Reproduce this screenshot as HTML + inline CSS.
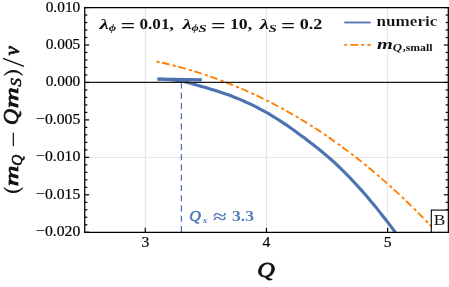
<!DOCTYPE html>
<html><head><meta charset="utf-8"><style>
html,body{margin:0;padding:0;background:#fff;}
svg{display:block;will-change:transform;font-family:"Liberation Serif",serif;}
</style></head><body>
<svg width="449" height="287" viewBox="0 0 449 287">
<rect width="449" height="287" fill="#fff"/>
<g stroke="#d9d9d9" stroke-width="0.7" fill="none">
<line x1="145.30" y1="7.55" x2="145.30" y2="232.25"/>
<line x1="266.45" y1="7.55" x2="266.45" y2="232.25"/>
<line x1="387.60" y1="7.55" x2="387.60" y2="232.25"/>
<line x1="84.7" y1="157.4" x2="448.2" y2="157.4"/>
</g>
<line x1="181.4" y1="82.4" x2="181.4" y2="232" stroke="#4C72B0" stroke-width="1.25" stroke-dasharray="6.0 4.25"/>
<path d="M156.5,61.5 L159.5,62.1 L162.5,62.8 L165.5,63.5 L168.5,64.2 L171.5,65.0 L174.5,65.7 L177.5,66.5 L180.5,67.3 L183.5,68.2 L186.5,69.0 L189.5,69.9 L192.5,70.8 L195.5,71.7 L198.5,72.6 L201.5,73.6 L204.5,74.6 L207.5,75.6 L210.5,76.6 L213.5,77.7 L216.5,78.8 L219.5,79.9 L222.5,81.0 L225.5,82.1 L228.5,83.3 L231.5,84.5 L234.5,85.7 L237.5,87.0 L240.5,88.2 L243.5,89.5 L246.5,90.9 L249.5,92.2 L252.5,93.6 L255.5,95.0 L258.5,96.4 L261.5,97.9 L264.5,99.3 L267.5,100.8 L270.5,102.4 L273.5,103.9 L276.5,105.5 L279.5,107.1 L282.5,108.7 L285.5,110.4 L288.5,112.1 L291.5,113.8 L294.5,115.5 L297.5,117.3 L300.5,119.1 L303.5,120.9 L306.5,122.8 L309.5,124.6 L312.5,126.5 L315.5,128.5 L318.5,130.4 L321.5,132.4 L324.5,134.5 L327.5,136.5 L330.5,138.6 L333.5,140.7 L336.5,142.8 L339.5,145.0 L342.5,147.2 L345.5,149.4 L348.5,151.7 L351.5,154.0 L354.5,156.3 L357.5,158.6 L360.5,161.0 L363.5,163.4 L366.5,165.8 L369.5,168.3 L372.5,170.8 L375.5,173.3 L378.5,175.9 L381.5,178.5 L384.5,181.1 L387.5,183.8 L390.5,186.5 L393.5,189.2 L396.5,191.9 L399.5,194.7 L402.5,197.5 L405.5,200.4 L408.5,203.3 L411.5,206.2 L414.5,209.1 L417.5,212.1 L420.5,215.1 L423.5,218.2 L426.5,221.3 L429.5,224.4 L431.6,226.6" fill="none" stroke="#FF7F00" stroke-width="1.9" stroke-dasharray="3.2 2.5 7.6 3.4" stroke-linecap="butt"/>
<path d="M157.5,79.0 L201.8,79.9" fill="none" stroke="#4C72B0" stroke-width="3.1"/>
<path d="M157.6,79.0 L160.6,79.2 L163.6,79.3 L166.6,79.5 L169.6,79.7 L172.6,79.9 L175.6,80.3 L178.6,80.7 L181.6,81.2 L184.6,81.8 L187.6,82.5 L190.6,83.3 L193.6,84.2 L196.6,85.1 L199.6,85.9 L202.6,86.8 L205.6,87.6 L208.6,88.5 L211.6,89.4 L214.6,90.3 L217.6,91.2 L220.6,92.2 L223.6,93.2 L226.6,94.2 L229.6,95.3 L232.6,96.5 L235.6,97.7 L238.6,98.9 L241.6,100.2 L244.6,101.5 L247.6,102.8 L250.6,104.2 L253.6,105.7 L256.6,107.2 L259.6,108.8 L262.6,110.4 L265.6,112.0 L268.6,113.7 L271.6,115.5 L274.6,117.3 L277.6,119.2 L280.6,121.1 L283.6,123.1 L286.6,125.1 L289.6,127.2 L292.6,129.3 L295.6,131.5 L298.6,133.7 L301.6,135.9 L304.6,138.1 L307.6,140.4 L310.6,142.7 L313.6,145.0 L316.6,147.4 L319.6,149.8 L322.6,152.2 L325.6,154.7 L328.6,157.3 L331.6,160.0 L334.6,162.7 L337.6,165.5 L340.6,168.4 L343.6,171.3 L346.6,174.3 L349.6,177.4 L352.6,180.6 L355.6,183.8 L358.6,187.1 L361.6,190.4 L364.6,193.8 L367.6,197.3 L370.6,200.9 L373.6,204.5 L376.6,208.1 L379.6,211.9 L382.6,215.7 L385.6,219.5 L388.6,223.4 L391.6,227.4 L394.6,231.4 L395.4,232.6" fill="none" stroke="#4C72B0" stroke-width="3.1" stroke-linejoin="round"/>
<line x1="84.7" y1="82.35" x2="448.2" y2="82.35" stroke="#1a1a1a" stroke-width="1.1"/>
<g stroke="#000" stroke-width="1.25" stroke-linecap="square">
<line x1="84.75" y1="7.55" x2="448.3" y2="7.55"/><line x1="84.75" y1="232.25" x2="448.3" y2="232.25"/>
<line x1="84.75" y1="7.55" x2="84.75" y2="232.25"/><line x1="448.3" y1="7.55" x2="448.3" y2="232.25"/></g>
<g stroke="#000" stroke-width="1.2"><line x1="84.75" y1="7.55" x2="89.15" y2="7.55"/><line x1="448.3" y1="7.55" x2="443.90000000000003" y2="7.55"/><line x1="84.75" y1="15.04" x2="87.35" y2="15.04"/><line x1="448.3" y1="15.04" x2="445.7" y2="15.04"/><line x1="84.75" y1="22.53" x2="87.35" y2="22.53"/><line x1="448.3" y1="22.53" x2="445.7" y2="22.53"/><line x1="84.75" y1="30.02" x2="87.35" y2="30.02"/><line x1="448.3" y1="30.02" x2="445.7" y2="30.02"/><line x1="84.75" y1="37.51" x2="87.35" y2="37.51"/><line x1="448.3" y1="37.51" x2="445.7" y2="37.51"/><line x1="84.75" y1="45.00" x2="89.15" y2="45.00"/><line x1="448.3" y1="45.00" x2="443.90000000000003" y2="45.00"/><line x1="84.75" y1="52.49" x2="87.35" y2="52.49"/><line x1="448.3" y1="52.49" x2="445.7" y2="52.49"/><line x1="84.75" y1="59.98" x2="87.35" y2="59.98"/><line x1="448.3" y1="59.98" x2="445.7" y2="59.98"/><line x1="84.75" y1="67.47" x2="87.35" y2="67.47"/><line x1="448.3" y1="67.47" x2="445.7" y2="67.47"/><line x1="84.75" y1="74.96" x2="87.35" y2="74.96"/><line x1="448.3" y1="74.96" x2="445.7" y2="74.96"/><line x1="84.75" y1="82.45" x2="89.15" y2="82.45"/><line x1="448.3" y1="82.45" x2="443.90000000000003" y2="82.45"/><line x1="84.75" y1="89.94" x2="87.35" y2="89.94"/><line x1="448.3" y1="89.94" x2="445.7" y2="89.94"/><line x1="84.75" y1="97.43" x2="87.35" y2="97.43"/><line x1="448.3" y1="97.43" x2="445.7" y2="97.43"/><line x1="84.75" y1="104.92" x2="87.35" y2="104.92"/><line x1="448.3" y1="104.92" x2="445.7" y2="104.92"/><line x1="84.75" y1="112.41" x2="87.35" y2="112.41"/><line x1="448.3" y1="112.41" x2="445.7" y2="112.41"/><line x1="84.75" y1="119.90" x2="89.15" y2="119.90"/><line x1="448.3" y1="119.90" x2="443.90000000000003" y2="119.90"/><line x1="84.75" y1="127.39" x2="87.35" y2="127.39"/><line x1="448.3" y1="127.39" x2="445.7" y2="127.39"/><line x1="84.75" y1="134.88" x2="87.35" y2="134.88"/><line x1="448.3" y1="134.88" x2="445.7" y2="134.88"/><line x1="84.75" y1="142.37" x2="87.35" y2="142.37"/><line x1="448.3" y1="142.37" x2="445.7" y2="142.37"/><line x1="84.75" y1="149.86" x2="87.35" y2="149.86"/><line x1="448.3" y1="149.86" x2="445.7" y2="149.86"/><line x1="84.75" y1="157.35" x2="89.15" y2="157.35"/><line x1="448.3" y1="157.35" x2="443.90000000000003" y2="157.35"/><line x1="84.75" y1="164.84" x2="87.35" y2="164.84"/><line x1="448.3" y1="164.84" x2="445.7" y2="164.84"/><line x1="84.75" y1="172.33" x2="87.35" y2="172.33"/><line x1="448.3" y1="172.33" x2="445.7" y2="172.33"/><line x1="84.75" y1="179.82" x2="87.35" y2="179.82"/><line x1="448.3" y1="179.82" x2="445.7" y2="179.82"/><line x1="84.75" y1="187.31" x2="87.35" y2="187.31"/><line x1="448.3" y1="187.31" x2="445.7" y2="187.31"/><line x1="84.75" y1="194.80" x2="89.15" y2="194.80"/><line x1="448.3" y1="194.80" x2="443.90000000000003" y2="194.80"/><line x1="84.75" y1="202.29" x2="87.35" y2="202.29"/><line x1="448.3" y1="202.29" x2="445.7" y2="202.29"/><line x1="84.75" y1="209.78" x2="87.35" y2="209.78"/><line x1="448.3" y1="209.78" x2="445.7" y2="209.78"/><line x1="84.75" y1="217.27" x2="87.35" y2="217.27"/><line x1="448.3" y1="217.27" x2="445.7" y2="217.27"/><line x1="84.75" y1="224.76" x2="87.35" y2="224.76"/><line x1="448.3" y1="224.76" x2="445.7" y2="224.76"/><line x1="84.75" y1="232.25" x2="89.15" y2="232.25"/><line x1="448.3" y1="232.25" x2="443.90000000000003" y2="232.25"/><line x1="145.30" y1="232.25" x2="145.30" y2="227.85"/><line x1="266.45" y1="232.25" x2="266.45" y2="227.85"/><line x1="387.60" y1="232.25" x2="387.60" y2="227.85"/></g>
<g font-size="15.6px" fill="#000" stroke="#000" stroke-width="0.2"><text x="45.70" y="11.55" textLength="34.6" lengthAdjust="spacingAndGlyphs">0.010</text><text x="45.70" y="49.00" textLength="34.6" lengthAdjust="spacingAndGlyphs">0.005</text><text x="45.70" y="86.45" textLength="34.6" lengthAdjust="spacingAndGlyphs">0.000</text><text x="36.00" y="123.90" textLength="44.3" lengthAdjust="spacingAndGlyphs">−0.005</text><text x="36.00" y="161.35" textLength="44.3" lengthAdjust="spacingAndGlyphs">−0.010</text><text x="36.00" y="198.80" textLength="44.3" lengthAdjust="spacingAndGlyphs">−0.015</text><text x="36.00" y="236.25" textLength="44.3" lengthAdjust="spacingAndGlyphs">−0.020</text><text x="145.30" y="247.4" text-anchor="middle">3</text><text x="266.45" y="247.4" text-anchor="middle">4</text><text x="387.60" y="247.4" text-anchor="middle">5</text></g>
<line x1="344.3" y1="22.5" x2="370.8" y2="22.5" stroke="#4C72B0" stroke-width="1.8"/>
<line x1="344.3" y1="44.9" x2="370.8" y2="44.9" stroke="#FF7F00" stroke-width="1.9" stroke-dasharray="2.8 3.4 7.7 3.0"/>
<g fill="#111">
<text transform="translate(99.54,28.95) scale(1.399,1)" font-size="15.07px" font-weight="bold" font-style="italic">λ</text>
<text transform="translate(108.67,31.05) scale(1.250,1)" font-size="10.22px" font-weight="bold" font-style="italic">ϕ</text>
<text transform="translate(120.46,31.63) scale(1.327,1)" font-size="19.63px" font-weight="bold" font-style="normal">=</text>
<text transform="translate(139.49,29.36) scale(1.173,1)" font-size="14.63px" font-weight="bold" font-style="normal">0.01,</text>
<text transform="translate(182.43,28.95) scale(1.385,1)" font-size="15.07px" font-weight="bold" font-style="italic">λ</text>
<text transform="translate(191.47,31.05) scale(1.232,1)" font-size="10.22px" font-weight="bold" font-style="italic">ϕ</text>
<text transform="translate(198.55,31.58) scale(1.351,1)" font-size="10.88px" font-weight="bold" font-style="italic">S</text>
<text transform="translate(211.07,31.63) scale(1.305,1)" font-size="19.63px" font-weight="bold" font-style="normal">=</text>
<text transform="translate(229.98,29.36) scale(1.217,1)" font-size="14.63px" font-weight="bold" font-style="normal">10,</text>
<text transform="translate(259.63,28.95) scale(1.385,1)" font-size="15.07px" font-weight="bold" font-style="italic">λ</text>
<text transform="translate(268.66,31.58) scale(1.315,1)" font-size="10.88px" font-weight="bold" font-style="italic">S</text>
<text transform="translate(281.00,31.63) scale(1.274,1)" font-size="19.63px" font-weight="bold" font-style="normal">=</text>
<text transform="translate(299.76,28.82) scale(1.312,1)" font-size="13.82px" font-weight="bold" font-style="normal">0.2</text>
<text transform="translate(376.58,26.22) scale(1.104,1)" font-size="15.52px" font-weight="bold" font-style="normal" stroke="#fff" stroke-width="0.15" stroke-linejoin="round">numeric</text>
<text transform="translate(376.90,48.60) scale(1.454,1)" font-size="14.04px" font-weight="bold" font-style="italic">m</text>
<text transform="translate(392.81,51.16) scale(1.332,1)" font-size="9.64px" font-weight="bold" font-style="italic">Q</text>
<text transform="translate(402.78,51.44) scale(1.135,1)" font-size="10.35px" font-weight="bold" font-style="normal">,small</text>
<text transform="translate(189.20,221.10) scale(1.050,1)" font-size="15.30px" font-weight="normal" font-style="italic" fill="#5379B6" stroke="#5379B6" stroke-width="0.6" stroke-linejoin="round">Q</text>
<text transform="translate(203.11,223.12) scale(1.366,1)" font-size="7.92px" font-weight="bold" font-style="italic" fill="#5379B6">s</text>
<text transform="translate(212.91,223.32) scale(1.307,1)" font-size="18.75px" font-weight="bold" font-style="normal" fill="#5A7FBA">≈</text>
<text transform="translate(232.07,221.01) scale(1.219,1)" font-size="14.41px" font-weight="bold" font-style="normal" fill="#5A7FBA">3.3</text>
</g>
<rect x="431.3" y="210.1" width="17.0" height="22.15" fill="#fff" stroke="#000" stroke-width="1.1"/>
<g fill="#111">
<text transform="translate(433.85,225.45) scale(1.133,1)" font-size="15.30px" font-weight="normal" font-style="normal">B</text>
<text transform="translate(257.19,277.08) scale(1.170,1)" font-size="20.72px" font-weight="normal" font-style="italic" stroke="#111" stroke-width="0.8" stroke-linejoin="round">Q</text>
</g>
<g transform="translate(0,193) rotate(-90)" fill="#111">
<text transform="translate(6.74,18.30) scale(1.470,1)" font-size="19.58px" font-weight="normal" font-style="italic" stroke="#111" stroke-width="0.8" stroke-linejoin="round">m</text>
<text transform="translate(27.13,21.56) scale(1.067,1)" font-size="14.34px" font-weight="normal" font-style="italic" stroke="#111" stroke-width="0.6" stroke-linejoin="round">Q</text>
<text transform="translate(45.15,19.18) scale(1.653,1)" font-size="17.50px" font-weight="bold" font-style="normal">−</text>
<text transform="translate(67.89,18.26) scale(1.061,1)" font-size="20.84px" font-weight="normal" font-style="italic" stroke="#111" stroke-width="0.8" stroke-linejoin="round">Q</text>
<text transform="translate(84.82,18.30) scale(1.493,1)" font-size="19.58px" font-weight="normal" font-style="italic" stroke="#111" stroke-width="0.8" stroke-linejoin="round">m</text>
<text transform="translate(106.53,21.43) scale(1.219,1)" font-size="13.68px" font-weight="normal" font-style="italic" stroke="#111" stroke-width="0.6" stroke-linejoin="round">S</text>
<text transform="translate(137.49,18.70) scale(1.046,1)" font-size="20.21px" font-weight="normal" font-style="italic" stroke="#111" stroke-width="0.8" stroke-linejoin="round">v</text>
<path d="M5.60,3.40 C-1.87,8.20 -1.87,18.60 5.60,23.40 L5.60,22.20 C1.20,18.00 1.20,8.80 5.60,4.60 Z" fill="#111"/>
<path d="M117.40,3.40 C125.00,8.20 125.00,18.60 117.40,23.40 L117.40,22.20 C121.93,18.00 121.93,8.80 117.40,4.60 Z" fill="#111"/>
<line x1="126.9" y1="23.5" x2="134.4" y2="3.6" stroke="#111" stroke-width="1.5" stroke-linecap="round"/>
</g>
</svg>
</body></html>
